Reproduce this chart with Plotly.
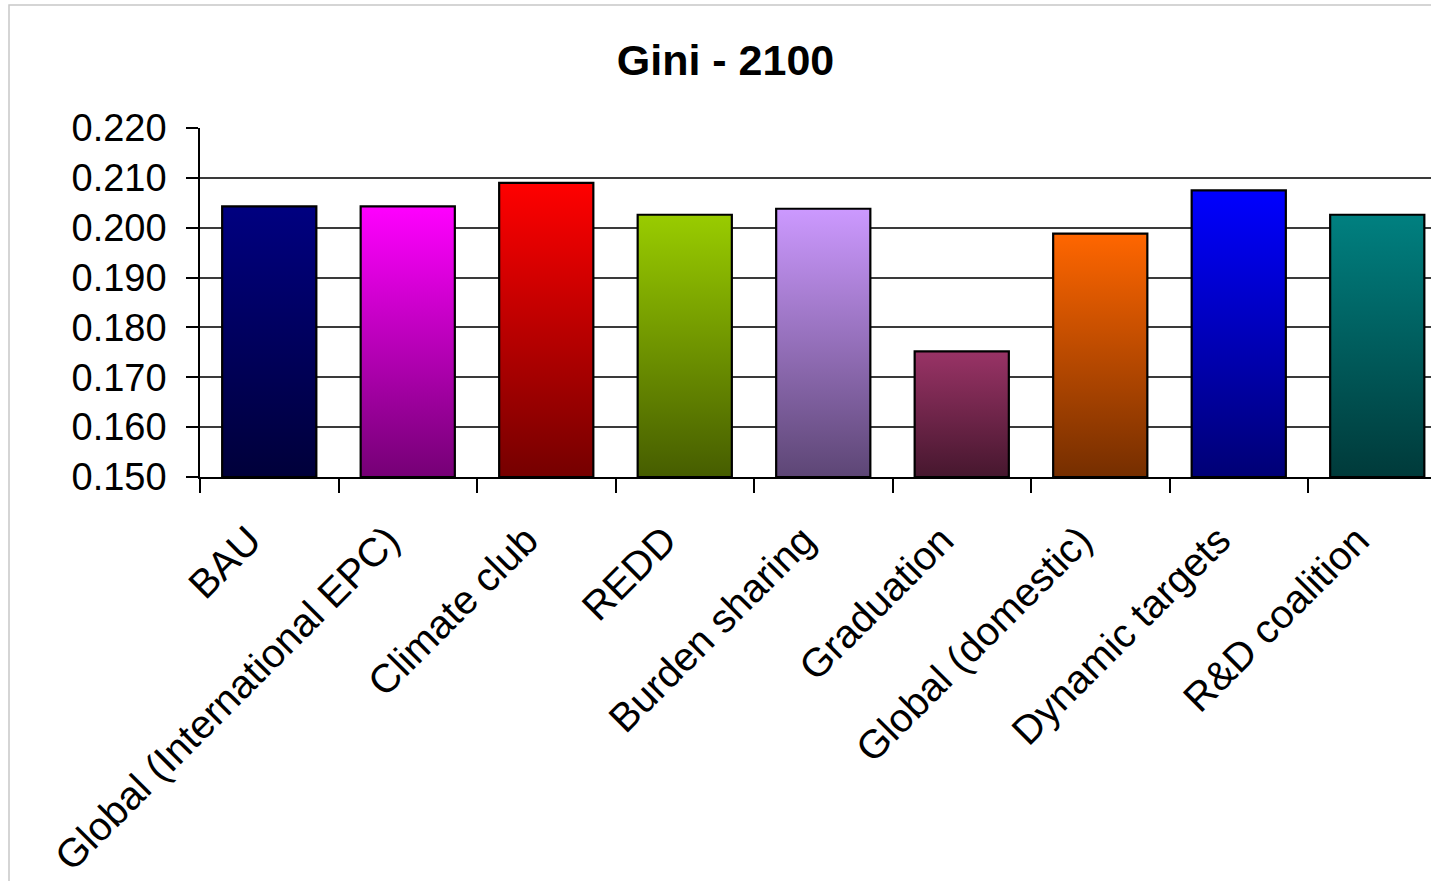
import plotly.graph_objects as go

# Gini coefficient in 2100 for each policy scenario
scenarios = [
    "BAU",
    "Global (International EPC)",
    "Climate club",
    "REDD",
    "Burden sharing",
    "Graduation",
    "Global (domestic)",
    "Dynamic targets",
    "R&D coalition",
]
gini_2100 = [0.2043, 0.2043, 0.2090, 0.2026, 0.2038, 0.1752, 0.1988, 0.2075, 0.2026]

# top colour of each bar, shading to a darker tone at its base
top_colors = ["#000080", "#FF00FF", "#FF0000", "#99CC00", "#CC99FF",
              "#993366", "#FF6600", "#0000FF", "#008080"]
shade = 0.46

y_min, y_max = 0.150, 0.220
bar_w = 0.68


def darken(hex_color, f):
    h = hex_color.lstrip("#")
    r, g, b = (int(h[i:i + 2], 16) for i in (0, 2, 4))
    return "#{:02x}{:02x}{:02x}".format(int(r * f), int(g * f), int(b * f))


fig = go.Figure()

for i, (name, val, col) in enumerate(zip(scenarios, gini_2100, top_colors)):
    x0, x1 = i - bar_w / 2, i + bar_w / 2
    fig.add_trace(go.Scatter(
        x=[x0, x1, x1, x0, x0],
        y=[y_min, y_min, val, val, y_min],
        mode="lines",
        fill="toself",
        fillgradient=dict(
            type="vertical",
            colorscale=[[0, darken(col, shade)], [1, col]],
        ),
        line=dict(color="#000000", width=2.2),
        name=name,
        hovertemplate=f"{name}: {val:.3f}<extra></extra>",
        showlegend=False,
    ))

n = len(scenarios)
fig.update_layout(
    width=1431,
    height=881,
    margin=dict(l=200, r=0, t=128, b=404),
    paper_bgcolor="white",
    plot_bgcolor="white",
    font=dict(family="Liberation Sans, Arial, sans-serif", color="black", size=38),
    title=dict(
        text="Gini - 2100",
        font=dict(size=43, weight="bold", color="black"),
        xref="container", x=0.507, xanchor="center",
        yref="container", y=1 - 60 / 881, yanchor="middle",
    ),
    xaxis=dict(
        range=[-0.5, -0.5 + 1231 / 138.5],
        tickmode="array",
        tickvals=list(range(n)),
        ticktext=scenarios,
        tickangle=-45,
        ticks="",
        ticklabelstandoff=22,
        ticklabelshift=-20,
        showgrid=False,
        zeroline=False,
        showline=True,
        linecolor="black",
        linewidth=1.5,
        minor=dict(
            tickmode="array",
            tickvals=[k - 0.5 for k in range(n + 1)],
            ticks="outside",
            ticklen=14,
            tickwidth=1.5,
            tickcolor="black",
            showgrid=False,
        ),
        tickfont=dict(size=40),
    ),
    yaxis=dict(
        range=[y_min, y_max],
        tick0=y_min,
        dtick=0.01,
        tickformat=".3f",
        ticks="outside",
        ticklen=12,
        tickwidth=1.5,
        tickcolor="black",
        ticklabelstandoff=12,
        showline=True,
        linecolor="black",
        linewidth=1.5,
        showgrid=True,
        gridcolor="#3a3a3a",
        gridwidth=1.5,
        zeroline=False,
        tickfont=dict(size=38),
    ),
    shapes=[
        dict(type="rect", xref="paper", yref="paper",
             x0=(9 - 200) / 1231, x1=1.2,
             y0=-3, y1=1 + (128 - 5) / 349,
             line=dict(color="#c8c8c8", width=1.5), layer="below"),
    ],
)

fig.write_html("out.html")
